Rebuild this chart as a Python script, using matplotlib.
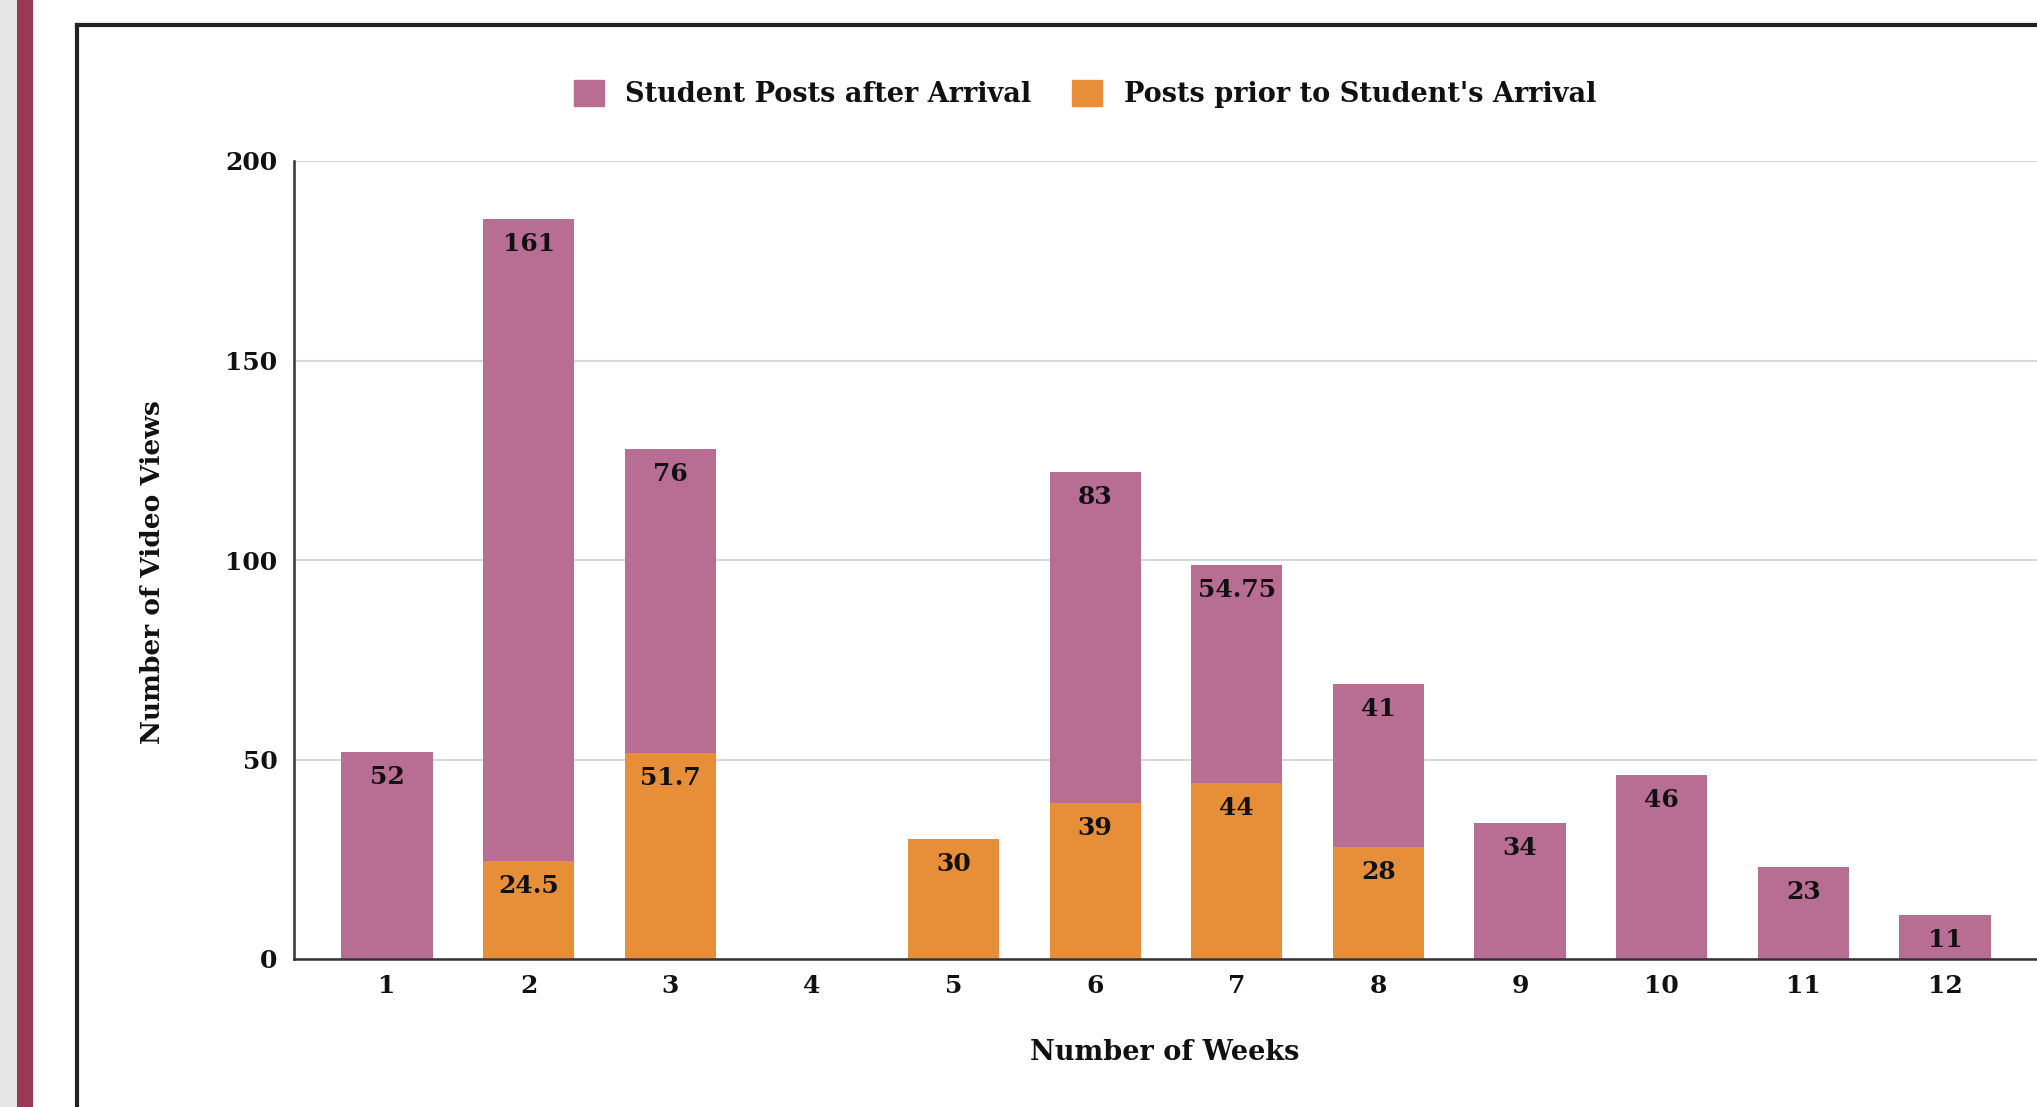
import matplotlib
matplotlib.use("Agg")
import matplotlib.pyplot as plt
from matplotlib.patches import Rectangle, Patch
from matplotlib.lines import Line2D
import numpy as np

weeks = [1, 2, 3, 4, 5, 6, 7, 8, 9, 10, 11, 12]
week_labels = ["1", "2", "3", "4", "5", "6", "7", "8", "9", "10", "11", "12"]
prior = [0, 24.5, 51.7, 0, 30, 39, 44, 28, 0, 0, 0, 0]
after = [52, 161, 76, 0, 0, 83, 54.75, 41, 34, 46, 23, 11]
series_names = ["Student Posts after Arrival", "Posts prior to Student's Arrival"]
y_ticks = [0, 50, 100, 150, 200]

PINK = "#b86e93"
ORANGE = "#e68f38"
W, H = 2037, 1107
fig = plt.figure(figsize=(W / 100, H / 100), dpi=100)
fig.patch.set_facecolor("white")

# page decorations
fig.add_artist(Rectangle((0, 0), 17 / W, 1, transform=fig.transFigure, color="#e6e6e6", lw=0))
fig.add_artist(Rectangle((17 / W, 0), 16 / W, 1, transform=fig.transFigure, color="#9b3856", lw=0))
fig.add_artist(Line2D([77 / W, 77 / W], [0, 1 - 25 / H], transform=fig.transFigure, color="#222222", lw=3, solid_capstyle="projecting"))
fig.add_artist(Line2D([77 / W, 1], [1 - 25 / H, 1 - 25 / H], transform=fig.transFigure, color="#222222", lw=3, solid_capstyle="projecting"))

ax = fig.add_axes([294 / W, 1 - 959 / H, 1 - 294 / W, (959 - 161) / H])
x = np.array(weeks, dtype=float)
width = 0.645
prior_a = np.array(prior)
after_a = np.array(after)
ax.bar(x, prior_a, width, color=ORANGE, zorder=3)
ax.bar(x, after_a, width, bottom=prior_a, color=PINK, zorder=3)

ax.set_xlim(0.343, 12.65)
ax.set_ylim(0, 200)
ax.set_yticks(y_ticks)
ax.set_yticklabels([str(t) for t in y_ticks])
ax.set_xticks(x)
ax.set_xticklabels(week_labels)
ax.grid(axis="y", color="#d9d9d9", lw=1.5, zorder=0)
for s in ["top", "right"]:
    ax.spines[s].set_visible(False)
for s in ["left", "bottom"]:
    ax.spines[s].set_color("#333333")
    ax.spines[s].set_linewidth(1.8)
    ax.spines[s].set_zorder(4)
ax.tick_params(length=0, labelsize=18, pad=11)
ax.tick_params(axis="y", pad=12)
for lab in ax.get_xticklabels() + ax.get_yticklabels():
    lab.set_fontfamily("DejaVu Serif")
    lab.set_fontweight("bold")
    lab.set_color("#111111")

def fmt(v):
    return ("%g" % v)

for xi, p, a in zip(x, prior_a, after_a):
    if p > 0:
        ax.annotate(fmt(p), (xi, p), xytext=(0, -18), textcoords="offset points",
                    ha="center", va="center", fontsize=18, fontweight="bold",
                    family="DejaVu Serif", color="#111111", zorder=5)
    if a > 0:
        ax.annotate(fmt(a), (xi, p + a), xytext=(0, -18), textcoords="offset points",
                    ha="center", va="center", fontsize=18, fontweight="bold",
                    family="DejaVu Serif", color="#111111", zorder=5)

ax.set_xlabel("Number of Weeks", fontsize=19.5, fontweight="bold", family="DejaVu Serif", color="#111111")
ax.set_ylabel("Number of Video Views", fontsize=19, fontweight="bold", family="DejaVu Serif", color="#111111")
ax.xaxis.set_label_coords((1165 - 294) / (W - 294), -(1039 - 959) / (959 - 161))
ax.yaxis.set_label_coords(-(294 - 165) / (W - 294), (959 - 572) / (959 - 161))

handles = [Patch(facecolor=PINK, edgecolor=PINK), Patch(facecolor=ORANGE, edgecolor=ORANGE)]
leg = fig.legend(handles, series_names, loc="center", bbox_to_anchor=(1085 / W, 1 - 94 / H),
                 ncol=2, frameon=False, handlelength=1.1, handleheight=1.1, columnspacing=1.5,
                 handletextpad=0.8, prop={"family": "DejaVu Serif", "weight": "bold", "size": 19.5})
for t in leg.get_texts():
    t.set_color("#111111")

fig.savefig("out.png", dpi=100, facecolor="white")
